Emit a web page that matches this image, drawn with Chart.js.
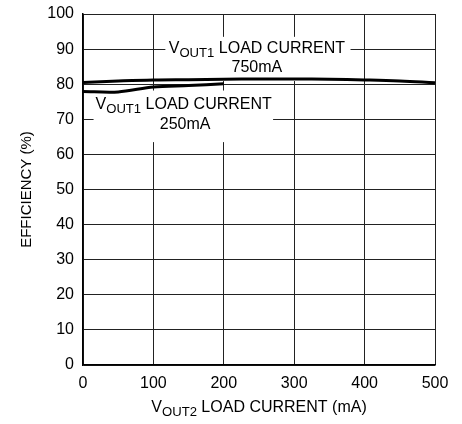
<!DOCTYPE html>
<html>
<head>
<meta charset="utf-8">
<script src="https://cdn.jsdelivr.net/npm/chart.js@4"></script>
<style>
  html, body { margin: 0; padding: 0; background: #fff; }
  #wrap { width: 462px; height: 424px; }
</style>
</head>
<body>
<div id="wrap"><canvas id="eff" width="462" height="424"></canvas></div>
<script>
// Data
const loadCurrent = [0, 50, 100, 150, 200, 250, 300, 350, 400, 450, 500];
const eff750 = [80.5, 80.9, 81.2, 81.3, 81.4, 81.5, 81.5, 81.4, 81.2, 80.9, 80.4];
const eff250 = [77.9, 77.8, 79.2, 79.6, 80.1];
const xTicks = [0, 100, 200, 300, 400, 500];

const FONT = '"Liberation Sans Narrow", "Liberation Sans", Arial, sans-serif';

// draws a label with a subscript part: [text, isSub]
function drawRich(ctx, parts, cx, cy, size) {
  const sub = size * 0.82;
  let w = 0;
  parts.forEach(p => {
    ctx.font = (p[1] ? sub : size) + 'px ' + FONT;
    w += ctx.measureText(p[0]).width;
  });
  let x = cx - w / 2;
  ctx.textAlign = 'left';
  ctx.textBaseline = 'alphabetic';
  parts.forEach(p => {
    ctx.font = (p[1] ? sub : size) + 'px ' + FONT;
    ctx.fillText(p[0], x, cy + (p[1] ? size * 0.25 : 0));
    x += ctx.measureText(p[0]).width;
  });
}

// white boxes + labels over the grid
const labelPlugin = {
  id: 'labels',
  beforeDatasetsDraw(chart) {
    const { ctx, scales: { x, y } } = chart;
    ctx.save();
    ctx.fillStyle = '#fff';
    ctx.fillRect(x.getPixelForValue(117), y.getPixelForValue(93.5), x.getPixelForValue(380) - x.getPixelForValue(117), y.getPixelForValue(80.9) - y.getPixelForValue(93.5));
    ctx.fillRect(x.getPixelForValue(15), y.getPixelForValue(78.2), x.getPixelForValue(270) - x.getPixelForValue(15), y.getPixelForValue(63.5) - y.getPixelForValue(78.2));
    ctx.fillStyle = '#000';
    drawRich(ctx, [['V', false], ['OUT1', true], [' LOAD CURRENT', false]], x.getPixelForValue(247), y.getPixelForValue(90.7) + 6, 16);
    drawRich(ctx, [['750mA', false]], x.getPixelForValue(247), y.getPixelForValue(85.2) + 6, 16);
    drawRich(ctx, [['V', false], ['OUT1', true], [' LOAD CURRENT', false]], x.getPixelForValue(143), y.getPixelForValue(74.6) + 6, 16);
    drawRich(ctx, [['250mA', false]], x.getPixelForValue(145), y.getPixelForValue(68.9) + 6, 16);
    ctx.restore();
  },
  afterDraw(chart) {
    const { ctx, chartArea } = chart;
    ctx.save();
    ctx.fillStyle = '#000';
    drawRich(ctx, [['V', false], ['OUT2', true], [' LOAD CURRENT (mA)', false]], (chartArea.left + chartArea.right) / 2, 412, 16);
    ctx.restore();
  }
};

const ctx = document.getElementById('eff').getContext('2d');
new Chart(ctx, {
  type: 'line',
  data: {
    datasets: [{
      label: '750mA',
      data: loadCurrent.map((v, i) => ({ x: v, y: eff750[i] })),
      borderColor: '#000',
      borderWidth: 3,
      pointRadius: 0,
      tension: 0.4,
      fill: false
    }, {
      label: '250mA',
      data: eff250.map((v, i) => ({ x: loadCurrent[i], y: v })),
      borderColor: '#000',
      borderWidth: 3,
      pointRadius: 0,
      tension: 0.3,
      fill: false
    }]
  },
  options: {
    responsive: false,
    animation: false,
    layout: { padding: { left: 18, right: 27, top: 14, bottom: 0 } },
    scales: {
      x: {
        type: 'linear',
        min: 0,
        max: 500,
        afterBuildTicks: scale => { scale.ticks = xTicks.map(v => ({ value: v })); },
        afterFit: scale => { scale.height = 59; },
        grid: { color: '#222', lineWidth: 1, drawTicks: false },
        border: { color: '#000', width: 1.5 },
        ticks: { color: '#000', font: { family: FONT, size: 16 }, padding: 9, maxRotation: 0, autoSkip: false }
      },
      y: {
        min: 0,
        max: 100,
        ticks: { stepSize: 10, color: '#000', font: { family: FONT, size: 16 }, padding: 9 },
        afterFit: scale => { scale.width = 65; scale.paddingTop = 0; scale.paddingBottom = 0; },
        grid: { color: '#222', lineWidth: 1, drawTicks: false },
        border: { color: '#000', width: 1.5 },
        title: { display: true, text: 'EFFICIENCY (%)', color: '#000', font: { family: FONT, size: 15 }, padding: 0 }
      }
    },
    plugins: {
      legend: { display: false },
      tooltip: { enabled: false }
    }
  },
  plugins: [labelPlugin]
});
</script>
</body>
</html>
